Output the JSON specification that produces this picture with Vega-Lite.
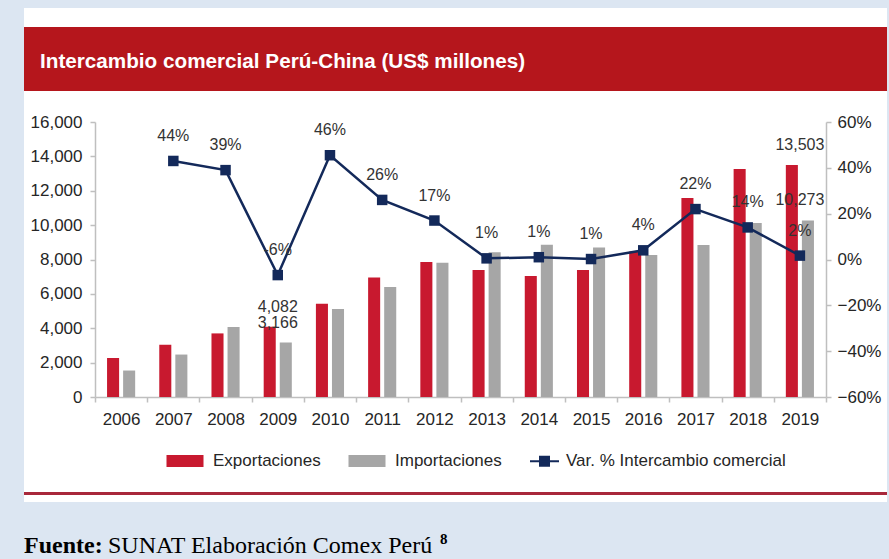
{
  "$schema": "https://vega.github.io/schema/vega-lite/v6.json",
  "background": "#dce6f2",
  "padding": {"left": 24, "top": 8, "right": 2, "bottom": 0},
  "spacing": 0,
  "datasets": {
    "comercio": [
      {"anio": "2006", "Exportaciones": 2269, "Importaciones": 1540, "var": null, "lbl": null},
      {"anio": "2007", "Exportaciones": 3040, "Importaciones": 2470, "var": 0.43, "lbl": "44%"},
      {"anio": "2008", "Exportaciones": 3700, "Importaciones": 4070, "var": 0.39, "lbl": "39%"},
      {"anio": "2009", "Exportaciones": 4082, "Importaciones": 3166, "var": -0.068, "lbl": "-6%"},
      {"anio": "2010", "Exportaciones": 5430, "Importaciones": 5120, "var": 0.455, "lbl": "46%"},
      {"anio": "2011", "Exportaciones": 6960, "Importaciones": 6400, "var": 0.26, "lbl": "26%"},
      {"anio": "2012", "Exportaciones": 7850, "Importaciones": 7810, "var": 0.17, "lbl": "17%"},
      {"anio": "2013", "Exportaciones": 7390, "Importaciones": 8420, "var": 0.005, "lbl": "1%"},
      {"anio": "2014", "Exportaciones": 7040, "Importaciones": 8860, "var": 0.01, "lbl": "1%"},
      {"anio": "2015", "Exportaciones": 7390, "Importaciones": 8700, "var": 0.002, "lbl": "1%"},
      {"anio": "2016", "Exportaciones": 8460, "Importaciones": 8260, "var": 0.04, "lbl": "4%"},
      {"anio": "2017", "Exportaciones": 11580, "Importaciones": 8840, "var": 0.22, "lbl": "22%"},
      {"anio": "2018", "Exportaciones": 13260, "Importaciones": 10130, "var": 0.14, "lbl": "14%"},
      {"anio": "2019", "Exportaciones": 13503, "Importaciones": 10273, "var": 0.017, "lbl": "2%"}
    ],
    "etiquetas": [
      {"anio": "2009", "serie": "Exportaciones", "valor": 4082},
      {"anio": "2009", "serie": "Importaciones", "valor": 3166},
      {"anio": "2019", "serie": "Exportaciones", "valor": 13503},
      {"anio": "2019", "serie": "Importaciones", "valor": 10273}
    ]
  },
  "config": {
    "view": {"stroke": null},
    "font": "Liberation Sans",
    "axis": {
      "grid": false,
      "domainColor": "#bfbfbf",
      "domainWidth": 1.5,
      "tickColor": "#bfbfbf",
      "tickWidth": 1.5,
      "tickSize": 5,
      "labelFont": "Liberation Sans",
      "labelFontSize": 17,
      "labelColor": "#262626"
    }
  },
  "vconcat": [
    {
      "width": 863,
      "height": 19,
      "view": {"fill": "white", "stroke": null},
      "data": {"values": []},
      "mark": "text"
    },
    {
      "width": 863,
      "height": 64,
      "view": {"fill": "#b5161c", "stroke": null},
      "data": {"values": [{"titulo": "Intercambio comercial Perú-China (US$ millones)"}]},
      "mark": {"type": "text", "align": "left", "baseline": "middle", "dy": 3, "color": "white", "font": "Liberation Sans", "fontSize": 20.7, "fontWeight": "bold"},
      "encoding": {
        "x": {"datum": 0, "type": "quantitative", "scale": {"domain": [0, 1], "range": [16, 863]}, "axis": null},
        "text": {"field": "titulo"}
      }
    },
    {
      "width": 863,
      "height": 401,
      "view": {"fill": "white", "stroke": null},
      "data": {"name": "comercio"},
      "encoding": {
        "x": {
          "field": "anio",
          "type": "ordinal",
          "scale": {"range": [71, 802], "paddingInner": 0, "paddingOuter": 0},
          "axis": {"orient": "bottom", "offset": -95, "title": null, "labelAngle": 0, "tickBand": "extent", "labelPadding": 9}
        }
      },
      "layer": [
        {
          "encoding": {
            "y": {
              "field": "valor",
              "type": "quantitative",
              "scale": {"domain": [0, 16000], "range": [306, 31]},
              "axis": {"orient": "left", "offset": -71, "values": [0, 2000, 4000, 6000, 8000, 10000, 12000, 14000, 16000], "format": ",.0f", "title": null, "labelPadding": 8}
            }
          },
          "layer": [
            {
              "transform": [{"fold": ["Exportaciones", "Importaciones"], "as": ["serie", "valor"]}],
              "mark": {"type": "bar"},
              "encoding": {
                "xOffset": {"field": "serie", "type": "nominal", "scale": {"paddingInner": 0.25, "paddingOuter": 0.75}},
                "color": {
                  "field": "serie",
                  "type": "nominal",
                  "scale": {"domain": ["Exportaciones", "Importaciones", "Var. % Intercambio comercial"], "range": ["#c8192f", "#a6a6a6", "#13295a"]},
                  "legend": {
                    "orient": "none",
                    "legendX": 150,
                    "legendY": 442,
                    "direction": "horizontal",
                    "columns": 3,
                    "title": null,
                    "labelFont": "Liberation Sans",
                    "labelFontSize": 17,
                    "labelColor": "#262626",
                    "labelLimit": 400,
                    "symbolSize": 400,
                    "labelOffset": 17,
                    "columnPadding": 24,
                    "encode": {
                      "symbols": {
                        "update": {
                          "shape": {"signal": "datum.value === 'Var. % Intercambio comercial' ? 'M-0.8,0H2.1M0.2,-0.45H1.1V0.45H0.2Z' : 'M-1.75,-0.5H1.75V0.5H-1.75Z'"},
                          "fill": {"signal": "datum.value === 'Exportaciones' ? '#c8192f' : datum.value === 'Importaciones' ? '#a6a6a6' : '#13295a'"},
                          "stroke": {"signal": "datum.value === 'Var. % Intercambio comercial' ? '#13295a' : 'transparent'"},
                          "strokeWidth": {"value": 2},
                          "size": {"value": 400},
                          "opacity": {"value": 1}
                        }
                      }
                    }
                  }
                }
              }
            },
            {
              "data": {"name": "etiquetas"},
              "mark": {"type": "text", "baseline": "middle", "dy": -20, "fontSize": 16, "color": "#333333"},
              "encoding": {"text": {"field": "valor", "type": "quantitative", "format": ",.0f"}}
            }
          ]
        },
        {
          "encoding": {
            "y": {
              "field": "var",
              "type": "quantitative",
              "scale": {"domain": [-0.6, 0.6], "range": [306, 31]},
              "axis": {"orient": "right", "offset": -61, "values": [-0.6, -0.4, -0.2, 0, 0.2, 0.4, 0.6], "format": ".0%", "title": null, "labelPadding": 6}
            }
          },
          "layer": [
            {
              "mark": {"type": "line", "strokeWidth": 2.5, "point": {"shape": "square", "size": 110, "filled": true}},
              "encoding": {"color": {"datum": "Var. % Intercambio comercial"}}
            },
            {
              "mark": {"type": "text", "baseline": "middle", "dy": -25, "fontSize": 16, "color": "#333333"},
              "encoding": {"text": {"field": "lbl", "type": "nominal"}}
            }
          ]
        }
      ],
      "resolve": {"scale": {"y": "independent"}}
    },
    {
      "width": 863,
      "height": 3,
      "view": {"fill": "#a8283b", "stroke": null},
      "data": {"values": []},
      "mark": "text"
    },
    {
      "width": 863,
      "height": 7,
      "view": {"fill": "white", "stroke": null},
      "data": {"values": []},
      "mark": "text"
    },
    {
      "width": 863,
      "height": 57,
      "data": {"values": [{"parte1": "Fuente:", "parte2": "SUNAT Elaboración Comex Perú", "nota": "8"}]},
      "encoding": {
        "x": {"datum": 0, "type": "quantitative", "scale": {"domain": [0, 1], "range": [0, 863]}, "axis": null}
      },
      "layer": [
        {
          "mark": {"type": "text", "align": "left", "baseline": "alphabetic", "dy": 22, "font": "Liberation Serif", "fontSize": 24, "fontWeight": "bold", "color": "black"},
          "encoding": {"text": {"field": "parte1"}}
        },
        {
          "mark": {"type": "text", "align": "left", "baseline": "alphabetic", "dx": 84, "dy": 22, "font": "Liberation Serif", "fontSize": 24, "color": "black"},
          "encoding": {"text": {"field": "parte2"}}
        },
        {
          "mark": {"type": "text", "align": "left", "baseline": "alphabetic", "dx": 416, "dy": 13, "font": "Liberation Serif", "fontSize": 15, "fontWeight": "bold", "color": "black"},
          "encoding": {"text": {"field": "nota"}}
        }
      ]
    }
  ]
}
